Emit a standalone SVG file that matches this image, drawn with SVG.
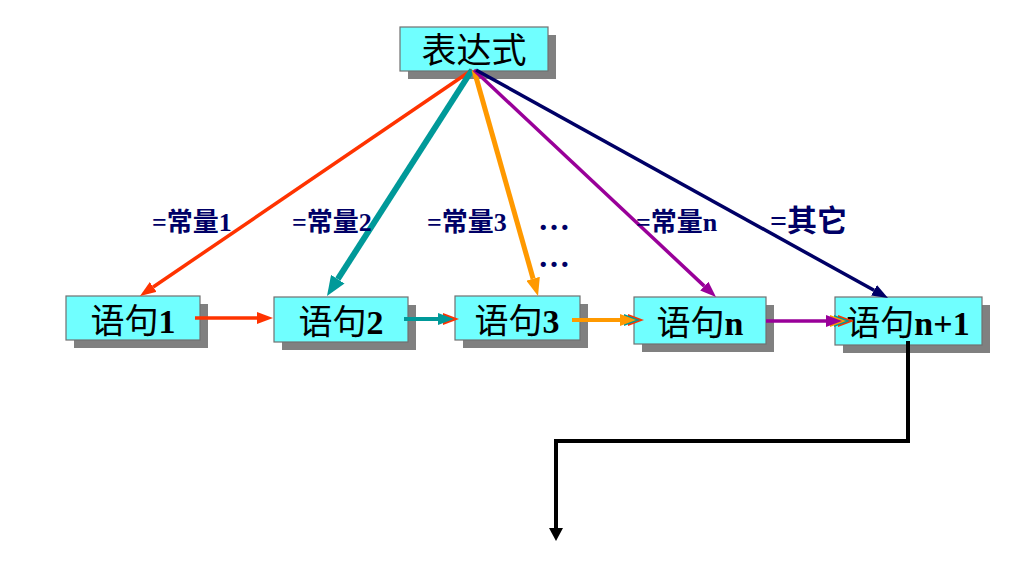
<svg xmlns="http://www.w3.org/2000/svg" width="1024" height="568" viewBox="0 0 1024 568">
<style>
.shadow{fill:#808080}
.box{fill:#70FFFF;stroke:#707070;stroke-width:1.2}
.bt{font-family:"Liberation Serif","Noto Sans CJK SC",serif;font-size:34px;fill:#000;text-anchor:middle}
.b{font-weight:bold}
.lbl{font-family:"Liberation Serif","Noto Sans CJK SC",serif;font-size:26px;font-weight:bold;fill:#000066}
.ln{fill:none}
</style>
<defs>
<marker id="hRed" markerUnits="userSpaceOnUse" markerWidth="16" markerHeight="12" refX="0" refY="6" orient="auto"><path d="M0,0 L16,6 L0,12 z" fill="#FF3300"/></marker>
<marker id="hTeal" markerUnits="userSpaceOnUse" markerWidth="20" markerHeight="16" refX="0" refY="8" orient="auto"><path d="M0,0 L20,8 L0,16 z" fill="#009999"/></marker>
<marker id="hTealS" markerUnits="userSpaceOnUse" markerWidth="16" markerHeight="12" refX="0" refY="6" orient="auto"><path d="M0,0 L16,6 L0,12 z" fill="#009999"/></marker>
<marker id="hOrange" markerUnits="userSpaceOnUse" markerWidth="18" markerHeight="14" refX="0" refY="7" orient="auto"><path d="M0,0 L18,7 L0,14 z" fill="#FF9900"/></marker>
<marker id="hOrangeS" markerUnits="userSpaceOnUse" markerWidth="16" markerHeight="12" refX="0" refY="6" orient="auto"><path d="M0,0 L16,6 L0,12 z" fill="#FF9900"/></marker>
<marker id="hPurple" markerUnits="userSpaceOnUse" markerWidth="16" markerHeight="12" refX="0" refY="6" orient="auto"><path d="M0,0 L16,6 L0,12 z" fill="#990099"/></marker>
<marker id="hNavy" markerUnits="userSpaceOnUse" markerWidth="16" markerHeight="12" refX="0" refY="6" orient="auto"><path d="M0,0 L16,6 L0,12 z" fill="#000066"/></marker>
<marker id="hBlack" markerUnits="userSpaceOnUse" markerWidth="13" markerHeight="14" refX="0" refY="7" orient="auto"><path d="M0,0 L13,7 L0,14 z" fill="#000"/></marker>
</defs>
<rect width="1024" height="568" fill="#fff"/>

<g id="expr">
<rect class="shadow" x="408" y="35" width="148" height="44"/>
<rect class="box" x="400" y="27" width="148" height="44"/>
<text x="474" y="63" font-family="'Liberation Serif','Noto Sans CJK SC',serif" font-size="35" text-anchor="middle" fill="#000">表达式</text>
</g>

<g id="s1">
<rect class="shadow" x="74" y="304" width="134" height="44"/>
<rect class="box" x="66" y="296" width="134" height="44"/>
<text class="bt" x="133" y="333">语句<tspan class="b">1</tspan></text>
</g>
<g id="s2">
<rect class="shadow" x="282" y="305" width="134" height="45"/>
<rect class="box" x="274" y="297" width="134" height="45"/>
<text class="bt" x="341" y="334">语句<tspan class="b">2</tspan></text>
</g>
<g id="s3">
<rect class="shadow" x="463" y="304" width="125" height="44"/>
<rect class="box" x="455" y="296" width="125" height="44"/>
<text class="bt" x="517" y="333">语句<tspan class="b">3</tspan></text>
</g>
<g id="sn">
<rect class="shadow" x="642" y="305" width="132" height="47"/>
<rect class="box" x="634" y="297" width="132" height="47"/>
<text class="bt" x="700" y="335">语句<tspan class="b">n</tspan></text>
</g>
<g id="sn1">
<rect class="shadow" x="843" y="305" width="147" height="48"/>
<rect class="box" x="835" y="297" width="147" height="48"/>
<text class="bt" x="908" y="335">语句<tspan class="b">n+1</tspan></text>
</g>

<g id="connectors">
<line class="ln" x1="472" y1="70" x2="153.2" y2="287" stroke="#FF3300" stroke-width="3.5" marker-end="url(#hRed)"/>
<line class="ln" x1="472" y1="70" x2="337.8" y2="279.2" stroke="#009999" stroke-width="6" marker-end="url(#hTeal)"/>
<line class="ln" x1="474" y1="70" x2="533.1" y2="278.7" stroke="#FF9900" stroke-width="5" marker-end="url(#hOrange)"/>
<line class="ln" x1="474" y1="70" x2="704.3" y2="286.1" stroke="#990099" stroke-width="3.5" marker-end="url(#hPurple)"/>
<line class="ln" x1="476" y1="70" x2="874" y2="290.3" stroke="#000066" stroke-width="3.5" marker-end="url(#hNavy)"/>

<line class="ln" x1="195" y1="318" x2="257" y2="318" stroke="#FF3300" stroke-width="3.5" marker-end="url(#hRed)"/>

<polygon points="443,313 459,319 443,325" fill="#FF3300"/>
<line class="ln" x1="404" y1="319" x2="438" y2="319" stroke="#009999" stroke-width="4" marker-end="url(#hTealS)"/>

<polygon points="628,314 644,320 628,326" fill="#FF3300"/>
<polygon points="624,314 640,320 624,326" fill="#009999"/>
<line class="ln" x1="572" y1="320" x2="620" y2="320" stroke="#FF9900" stroke-width="4" marker-end="url(#hOrangeS)"/>

<polygon points="838,315 854,321 838,327" fill="#FF3300"/>
<polygon points="834,315 850,321 834,327" fill="#009999"/>
<polygon points="830,315 846,321 830,327" fill="#FF9900"/>
<line class="ln" x1="766" y1="321" x2="826" y2="321" stroke="#990099" stroke-width="3.5" marker-end="url(#hPurple)"/>

<polyline class="ln" points="908,341 908,441 556,441 556,528" stroke="#000" stroke-width="4" marker-end="url(#hBlack)"/>
</g>

<g id="labels">
<text class="lbl" x="152" y="231">=常量1</text>
<text class="lbl" x="292" y="231">=常量2</text>
<text class="lbl" x="427" y="231">=常量3</text>
<text class="lbl" x="538" y="230" style="font-size:32px">…</text>
<text class="lbl" x="538" y="267" style="font-size:32px">…</text>
<text class="lbl" x="636" y="231">=常量n</text>
<text class="lbl" x="770" y="231" style="font-size:30px">=其它</text>
</g>
</svg>
